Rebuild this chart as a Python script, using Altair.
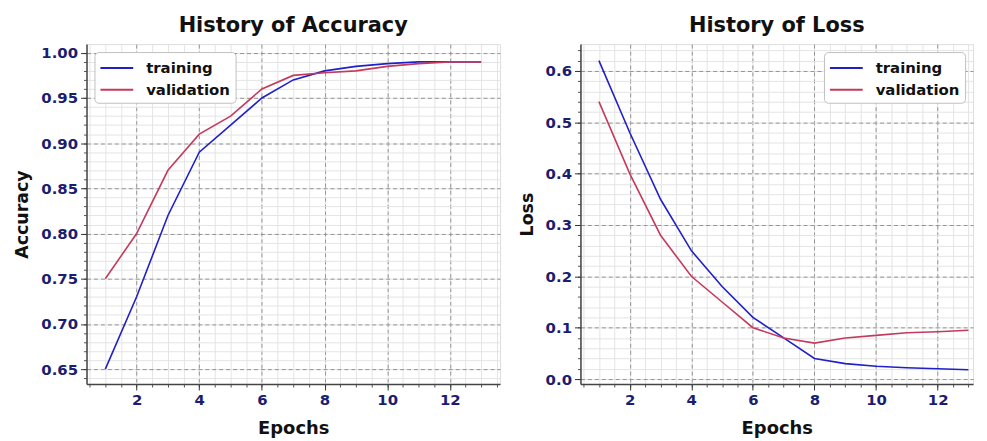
import altair as alt
import pandas as pd

epochs = list(range(1, 14))
train_acc = [0.65, 0.73, 0.82, 0.89, 0.92, 0.95, 0.97, 0.98, 0.985, 0.988, 0.99, 0.99, 0.99]
val_acc = [0.75, 0.80, 0.87, 0.91, 0.93, 0.96, 0.975, 0.978, 0.98, 0.985, 0.988, 0.99, 0.99]
train_loss = [0.62, 0.48, 0.35, 0.25, 0.18, 0.12, 0.08, 0.04, 0.03, 0.025, 0.022, 0.02, 0.018]
val_loss = [0.54, 0.40, 0.28, 0.20, 0.15, 0.10, 0.08, 0.07, 0.08, 0.085, 0.09, 0.092, 0.095]
series = ["training", "validation"]
colors = ["#2020c8", "#c43a5c"]

x_major = [2, 4, 6, 8, 10, 12]
x_minor = [0.5 * i for i in range(1, 28)]
acc_major = [0.65, 0.70, 0.75, 0.80, 0.85, 0.90, 0.95, 1.00]
acc_minor = [round(0.63 + 0.01 * i, 2) for i in range(0, 39)]
loss_major = [0.0, 0.1, 0.2, 0.3, 0.4, 0.5, 0.6]
loss_minor = [round(0.02 * i, 2) for i in range(0, 33)]

FONT = "DejaVu Sans"
LABEL_COLOR = "#1c1c70"


def frame(train, val):
    return pd.DataFrame({
        "epoch": epochs * 2,
        "value": train + val,
        "series": ["training"] * len(epochs) + ["validation"] * len(epochs),
    })


def panel(df, title, ytitle, ymajor, yminor, ydomain, xdomain, width, legend_orient, yfmt):
    xscale = alt.Scale(domain=xdomain, nice=False, zero=False)
    yscale = alt.Scale(domain=ydomain, nice=False, zero=False)
    minor = alt.Chart(df).mark_line(opacity=0).encode(
        x=alt.X("epoch:Q", scale=xscale, title=None,
                axis=alt.Axis(orient="bottom", values=x_minor, labels=False, domain=False,
                              grid=True, gridColor="#e4e4e4", gridWidth=1,
                              tickSize=3, tickColor="#555")),
        y=alt.Y("value:Q", scale=yscale, title=None,
                axis=alt.Axis(orient="left", values=yminor, labels=False, domain=False,
                              grid=True, gridColor="#e4e4e4", gridWidth=1,
                              tickSize=3, tickColor="#555")),
    )
    lines = alt.Chart(df).mark_line(strokeWidth=1.6).encode(
        x=alt.X("epoch:Q", scale=xscale, title="Epochs",
                axis=alt.Axis(orient="bottom", values=x_major, format="d", grid=True,
                              gridColor="#8a8a8a", gridDash=[4, 3], gridWidth=0.9,
                              tickSize=6, tickColor="#333", domainColor="#444", domainWidth=1.5,
                              labelFont=FONT, labelFontWeight="bold", labelFontSize=15,
                              labelColor=LABEL_COLOR, labelPadding=3,
                              titleFont=FONT, titleFontWeight="bold", titleFontSize=18,
                              titleColor="#111", titlePadding=12)),
        y=alt.Y("value:Q", scale=yscale, title=ytitle,
                axis=alt.Axis(orient="left", values=ymajor, format=yfmt, grid=True,
                              gridColor="#8a8a8a", gridDash=[4, 3], gridWidth=0.9,
                              tickSize=6, tickColor="#333", domainColor="#444", domainWidth=1.5,
                              labelFont=FONT, labelFontWeight="bold", labelFontSize=15,
                              labelColor=LABEL_COLOR, labelPadding=3,
                              titleFont=FONT, titleFontWeight="bold", titleFontSize=17.5,
                              titleColor="#111", titlePadding=9)),
        color=alt.Color("series:N", scale=alt.Scale(domain=series, range=colors),
                        legend=alt.Legend(title=None, orient=legend_orient, offset=8,
                                          symbolType="M-1,0L2.3,0", symbolSize=400,
                                          symbolStrokeWidth=2, labelFont=FONT,
                                          labelFontWeight="bold", labelFontSize=15,
                                          labelColor="#111", rowPadding=3, padding=5,
                                          fillColor="white", strokeColor="#c0c0c0",
                                          cornerRadius=4, labelOffset=25)),
    )
    return alt.layer(minor, lines).resolve_axis(x="independent", y="independent").properties(
        width=width, height=342,
        title=alt.TitleParams(title, font=FONT, fontWeight="bold", fontSize=21,
                              color="#111", offset=8, anchor="middle"),
    )


left = panel(frame(train_acc, val_acc), "History of Accuracy", "Accuracy",
             acc_major, acc_minor, [0.6335, 1.0096], [0.4, 13.6], 416, "top-left", ".2f")
right = panel(frame(train_loss, val_loss), "History of Loss", "Loss",
              loss_major, loss_minor, [-0.0097, 0.652], [0.4, 13.15], 395, "top-right", ".1f")

chart = alt.hconcat(left, right, spacing=16).resolve_legend(color="independent").configure_view(
    stroke="#666", strokeWidth=1.5
).configure(background="white")

chart.save("out.html", embed_options={"renderer": "svg", "actions": False})
